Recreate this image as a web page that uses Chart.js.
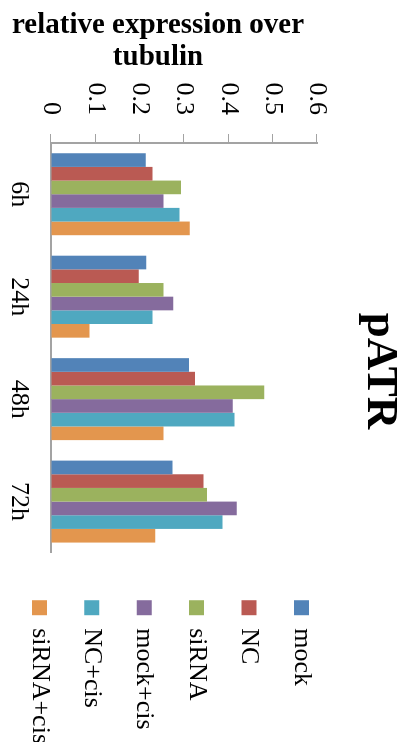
<!DOCTYPE html>
<html>
<head>
<meta charset="utf-8">
<script src="https://cdn.jsdelivr.net/npm/chart.js@4"></script>
<style>
  html, body { margin: 0; padding: 0; background: #fff; overflow: hidden; }
  /* the column chart is laid out sideways and turned a quarter clockwise */
  #wrap {
    position: absolute; left: 0; top: 0;
    width: 742px; height: 407px;
    transform-origin: 0 0;
    transform: translate(407px, 0) rotate(90deg);
  }
</style>
</head>
<body>
<div id="wrap"><canvas id="myChart" width="742" height="407"></canvas></div>
<script>
var timePoints = ['6h', '24h', '48h', '72h'];
var seriesNames = ['mock', 'NC', 'siRNA', 'mock+cis', 'NC+cis', 'siRNA+cis'];
var mockValues     = [0.214, 0.215, 0.311, 0.274];
var ncValues       = [0.229, 0.198, 0.325, 0.344];
var sirnaValues    = [0.293, 0.254, 0.481, 0.352];
var mockCisValues  = [0.254, 0.276, 0.410, 0.419];
var ncCisValues    = [0.290, 0.229, 0.414, 0.387];
var sirnaCisValues = [0.313, 0.087, 0.254, 0.235];
var tickLabels = ['0', '0.1', '0.2', '0.3', '0.4', '0.5', '0.6'];
var chartTitle = 'pATR';
var axisTitleLines = ['relative expression over', 'tubulin'];

var seriesValues = [mockValues, ncValues, sirnaValues, mockCisValues, ncCisValues, sirnaCisValues];
var seriesColors = ['#5283b8', '#ba5a53', '#9bb25e', '#856b9d', '#4fa8c0', '#e3964e'];

Chart.defaults.font.family = "'Liberation Serif', serif";
Chart.defaults.color = '#000';

var datasets = [];
seriesNames.forEach(function(name, i) {
    datasets.push({
        label: name,
        data: seriesValues[i],
        backgroundColor: seriesColors[i],
        borderWidth: 0,
        barPercentage: 1.0,
        categoryPercentage: 0.8
    });
});

// value axis title, two centred lines, drawn a little below the axis middle
var axisTitlePlugin = {
    id: 'axisTitle',
    afterDraw: function(chart) {
        var ctx = chart.ctx;
        var s = chart.scales.y;
        var cy = (s.top + s.bottom) / 2 + 26;
        var xs = [26, 58];
        ctx.save();
        ctx.fillStyle = '#000';
        ctx.font = "bold 29px 'Liberation Serif', serif";
        ctx.textAlign = 'center';
        ctx.textBaseline = 'middle';
        axisTitleLines.forEach(function(line, i) {
            ctx.save();
            ctx.translate(xs[i], cy);
            ctx.rotate(-Math.PI / 2);
            ctx.fillText(line, 0, 0);
            ctx.restore();
        });
        ctx.restore();
    }
};

var axisGrey = '#a3a3a3';
var ctx = document.getElementById('myChart');
var myChart = new Chart(ctx, {
    type: 'bar',
    data: { labels: timePoints, datasets: datasets },
    plugins: [axisTitlePlugin],
    options: {
        responsive: false,
        animation: false,
        devicePixelRatio: 1,
        layout: { padding: { left: -12, right: -12, top: 0, bottom: 0 } },
        plugins: {
            title: {
                display: true,
                text: chartTitle,
                font: { size: 45, weight: 'bold' },
                color: '#000',
                padding: { top: 0, bottom: 36 }
            },
            legend: {
                position: 'right',
                align: 'end',
                labels: {
                    boxWidth: 15,
                    boxHeight: 15,
                    padding: 26.4,
                    font: { size: 26 },
                    color: '#000'
                }
            },
            tooltip: { enabled: false }
        },
        scales: {
            x: {
                offset: true,
                grid: { display: false },
                border: { display: true, color: axisGrey, width: 2 },
                ticks: { font: { size: 26 }, padding: 9, maxRotation: 0 },
                afterFit: function(scale) { scale.height = 51; }
            },
            y: {
                min: 0,
                max: 0.6,
                ticks: {
                    stepSize: 0.1,
                    font: { size: 26 },
                    padding: 19,
                    callback: function(value, index) { return tickLabels[index]; }
                },
                grid: { drawOnChartArea: false, drawTicks: true, tickLength: 9, color: axisGrey, lineWidth: 1 },
                border: { display: true, color: axisGrey, width: 2 },
                afterFit: function(scale) { scale.width = 155; }
            },
            // empty strip between the plot and the legend
            gap: {
                type: 'linear',
                position: 'right',
                display: false,
                afterFit: function(scale) { scale.width = 21; }
            }
        }
    }
});
</script>
</body>
</html>
